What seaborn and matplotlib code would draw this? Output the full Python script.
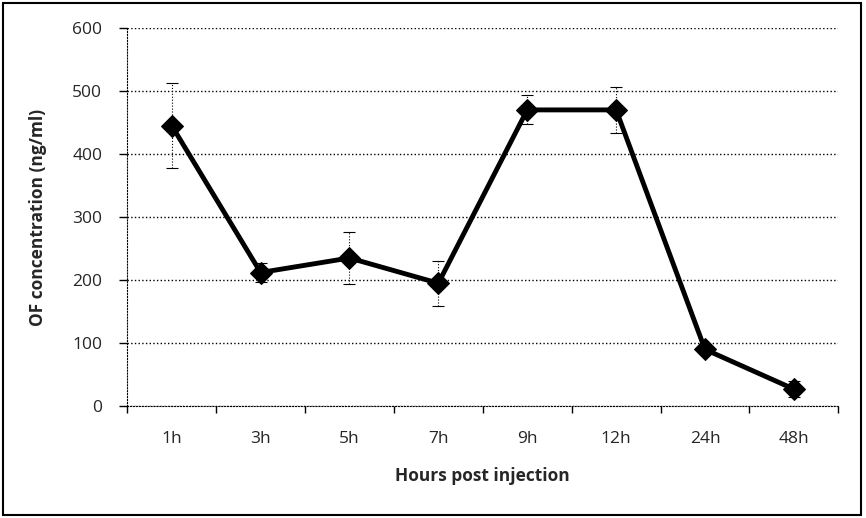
import seaborn as sns
import matplotlib.pyplot as plt
import pandas as pd

hours = ["1h", "3h", "5h", "7h", "9h", "12h", "24h", "48h"]
conc = [445, 212, 235, 195, 470, 470, 90, 27]
err = [67, 15, 42, 36, 23, 37, 8, 13]

sns.set_style("white")
plt.rcParams["font.family"] = ["Open Sans", "DejaVu Sans"]

df = pd.DataFrame({"hours": hours, "conc": conc, "err": err})
df["pos"] = range(len(df))

fig = plt.figure(figsize=(8.66, 5.18), dpi=100)
ax = fig.add_axes([0.147, 0.216, 0.821, 0.73])

ax.errorbar(df["pos"], df["conc"], yerr=df["err"], fmt="none", ecolor="black",
            elinewidth=0.8, capsize=4, capthick=0.8, zorder=2)
eb = ax.containers[-1]
for lc in eb.lines[2]:
    lc.set_linestyle(":")
sns.lineplot(data=df, x="pos", y="conc", color="black", linewidth=3.5,
             marker="D", markersize=11, markeredgecolor="black", ax=ax, zorder=3)

ax.set_xlim(-0.5, 7.5)
ax.set_ylim(0, 600)
ax.set_yticks(range(0, 601, 100))
ax.set_xticks([i - 0.5 for i in range(9)], minor=False)
ax.set_xticklabels([])
ax.set_xticks(range(8), minor=True)
ax.set_xticklabels(hours, minor=True)
ax.tick_params(axis="x", which="major", bottom=True, direction="out", length=5,
               width=1, color="black")
ax.tick_params(axis="x", which="minor", bottom=True, length=0, pad=18, labelsize=12.5)
ax.tick_params(axis="y", left=True, direction="out", length=6, width=1, labelsize=12.5,
               color="black", pad=12)
for t in ax.yaxis.get_major_ticks() + ax.xaxis.get_major_ticks():
    t.tick1line.set_linestyle(":")

ax.yaxis.grid(True, linestyle=":", color="black", linewidth=1)
for s in ["top", "right"]:
    ax.spines[s].set_visible(False)
for s in ["left", "bottom"]:
    ax.spines[s].set_linestyle(":")
    ax.spines[s].set_color("black")

ax.set_xlabel("Hours post injection", fontsize=12.5, fontweight="bold", labelpad=14)
ax.set_ylabel("OF concentration (ng/ml)", fontsize=12.5, fontweight="bold", labelpad=18)

fig.patches.append(plt.Rectangle((0.004, 0.005), 0.99, 0.99, transform=fig.transFigure,
                                 fill=False, edgecolor="black", linewidth=1.5))

fig.savefig("out.png", dpi=100)
